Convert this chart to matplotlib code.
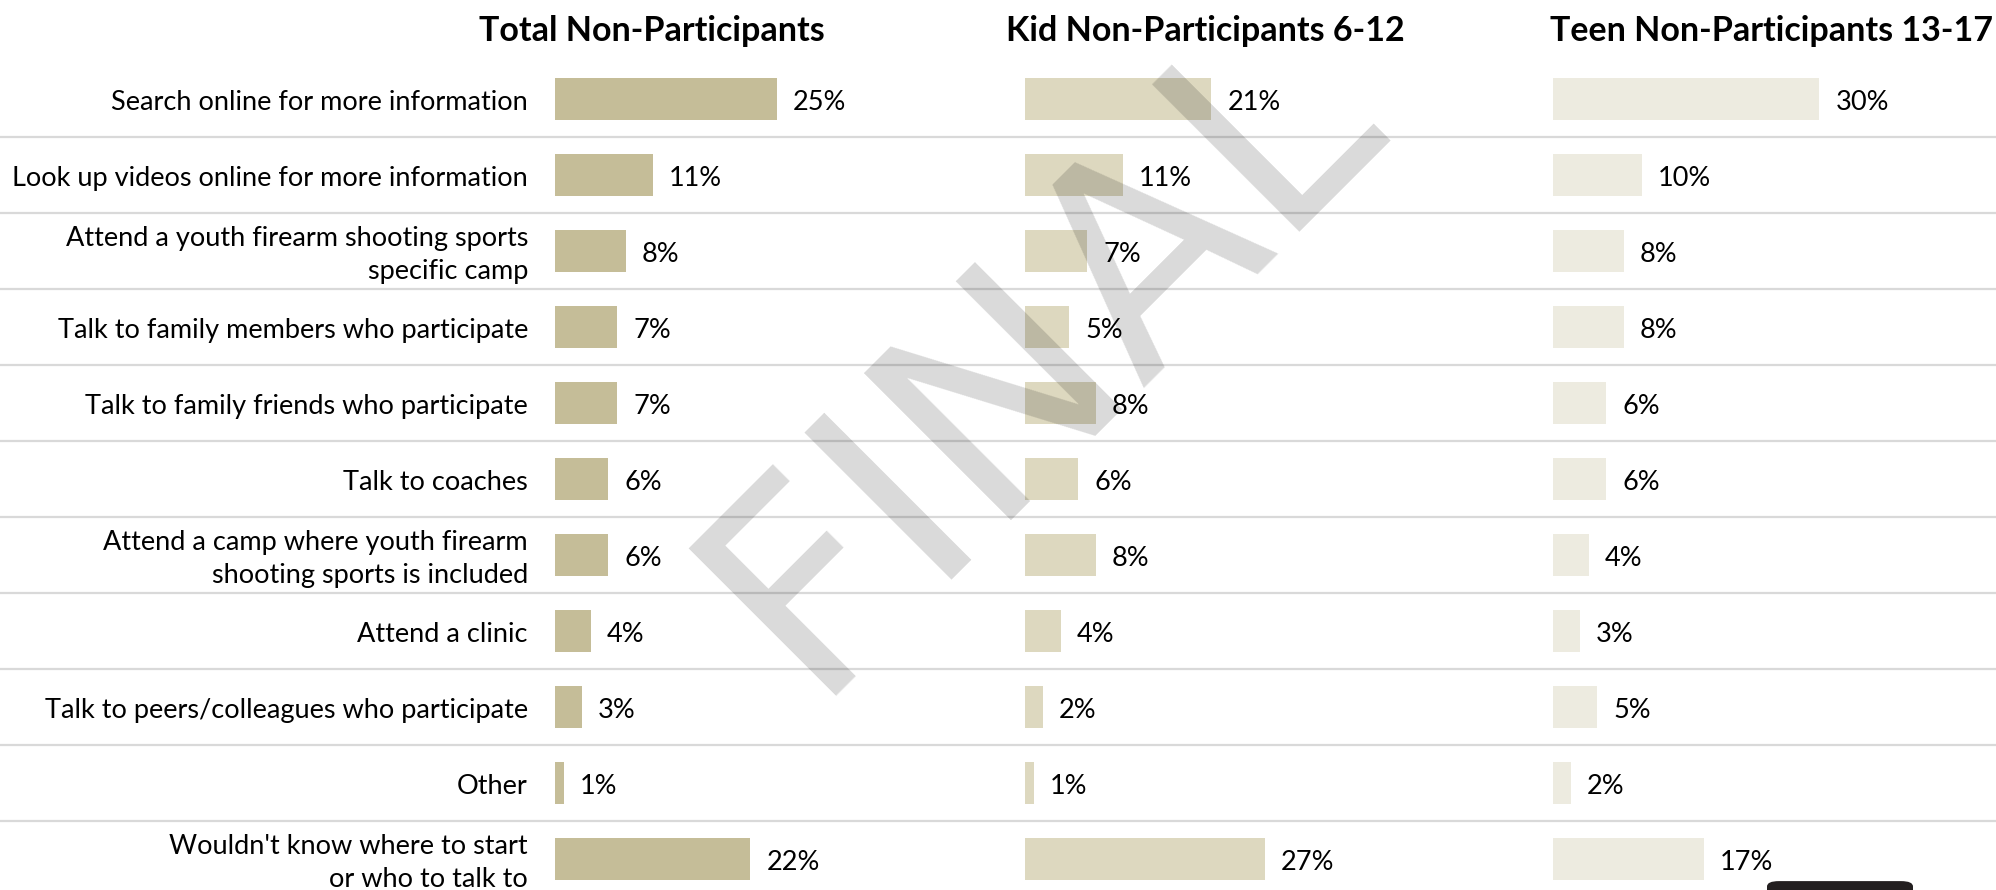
import matplotlib
matplotlib.use("Agg")
import matplotlib.pyplot as plt
from matplotlib.patches import FancyBboxPatch

# ---------------- data ----------------
categories = [
    "Search online for more information",
    "Look up videos online for more information",
    "Attend a youth firearm shooting sports\nspecific camp",
    "Talk to family members who participate",
    "Talk to family friends who participate",
    "Talk to coaches",
    "Attend a camp where youth firearm\nshooting sports is included",
    "Attend a clinic",
    "Talk to peers/colleagues who participate",
    "Other",
    "Wouldn't know where to start\nor who to talk to",
]
group_titles = ["Total Non-Participants", "Kid Non-Participants 6-12", "Teen Non-Participants 13-17"]
total_vals = [25, 11, 8, 7, 7, 6, 6, 4, 3, 1, 22]
kid_vals = [21, 11, 7, 5, 8, 6, 8, 4, 2, 1, 27]
teen_vals = [30, 10, 8, 8, 6, 6, 4, 3, 5, 2, 17]
group_colors = ["#C5BD98", "#DDD8BF", "#EDEBE0"]
watermark = "FINAL"

# ---------------- layout (pixels) ----------------
W, H = 1996, 890
DPI = 100
row0 = 99.0        # centre of first row (px from top)
pitch = 76.0       # row pitch (px)
px_per_pct = 8.88
bar_left = [555, 1025, 1553]
title_cx = [652, 1205, 1772]
title_y = 31
label_right = 528
text_dy = 0.05     # small downward nudge of labels (rows)
FONT = "Lato"

n = len(categories)
y_top = -row0 / pitch
y_bot = (H - row0) / pitch

fig = plt.figure(figsize=(W / DPI, H / DPI), dpi=DPI)
fig.patch.set_facecolor("white")

# background axes (full figure) for separators & category labels
bg = fig.add_axes([0, 0, 1, 1])
bg.set_xlim(0, W)
bg.set_ylim(y_bot, y_top)
bg.axis("off")
for i in range(n - 1):
    bg.axhline(i + 0.5, color="#D9D9D9", lw=1.6, zorder=1)
for i, lab in enumerate(categories):
    bg.text(label_right, i + text_dy, lab, ha="right", va="center", fontsize=19.5,
            family=FONT, color="#000000", linespacing=1.4, zorder=3)

# group axes
xmax = 48
for g, (vals, col) in enumerate(zip([total_vals, kid_vals, teen_vals], group_colors)):
    left = bar_left[g] / W
    width = xmax * px_per_pct / W
    ax = fig.add_axes([left, 0, width, 1])
    ax.set_xlim(0, xmax)
    ax.set_ylim(y_bot, y_top)
    ax.axis("off")
    ax.patch.set_alpha(0)
    ys = list(range(n))
    ax.barh(ys, vals, height=0.55, color=col, zorder=2)
    for y, v in zip(ys, vals):
        ax.annotate(f"{v}%", (v, y), xytext=(11.5, -2.8), textcoords="offset points",
                    ha="left", va="center", fontsize=19.5, family=FONT, color="#000000")
    fig.text(title_cx[g] / W, 1 - title_y / H, group_titles[g], ha="center", va="center",
             fontsize=24.5, fontweight="bold", family=FONT, color="#000000")

# watermark (anchored at the centre of its baseline)
fig.text(1097 / W, 1 - 408 / H, watermark, rotation=45, rotation_mode="anchor",
         ha="center", va="baseline", fontsize=205, family="DejaVu Sans",
         color="black", alpha=0.15, zorder=10)

# cut-off dark element at bottom right
fig.patches.append(FancyBboxPatch((1767 / W, -0.01), 146 / W, 0.02,
                                  boxstyle="round,pad=0,rounding_size=0.006",
                                  transform=fig.transFigure, facecolor="#231F20",
                                  edgecolor="none", zorder=11))

fig.savefig("out.png", dpi=DPI, facecolor="white")
